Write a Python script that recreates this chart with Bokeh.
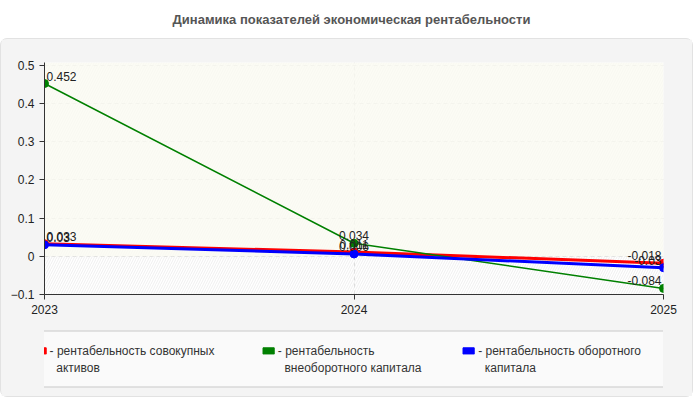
# rentability dynamics chart
from bokeh.plotting import figure
from bokeh.models import Div, Legend, LegendItem, BoxAnnotation, FixedTicker, Range1d
from bokeh.layouts import column
from bokeh.embed import file_html
from bokeh.resources import INLINE
from bokeh.core.properties import value

# data
years = [2023, 2024, 2025]
assets = [0.033, 0.011, -0.018]
noncurrent = [0.452, 0.034, -0.084]
current = [0.03, 0.006, -0.03]
# legend labels, first and second line
names_1 = ["- рентабельность совокупных", "- рентабельность", "- рентабельность оборотного"]
names_2 = ["активов", "внеоборотного капитала", "капитала"]
y_ticks = [-0.1, 0, 0.1, 0.2, 0.3, 0.4, 0.5]
title = "Динамика показателей экономическая рентабельности"

FONT = "Liberation Sans"
PANEL = "#f4f4f4"
W = 691
colors = ["red", "green", "blue"]
widths = [3, 1.5, 3]
series = [assets, noncurrent, current]

head = Div(
    text=f'<div style="width:{W + 2}px;text-align:center;font:bold 13px \'{FONT}\';color:#555;line-height:30px">{title}</div>',
    width=W + 2, height=28,
)

p = figure(width=W, height=283, output_backend="svg", toolbar_location=None,
           x_range=Range1d(2023, 2025), y_range=Range1d(-0.1, 0.507),
           min_border_left=43, min_border_right=29, min_border_top=23, min_border_bottom=28)
p.border_fill_color = PANEL
p.background_fill_color = "white"
p.outline_line_color = None

# hatched background, pale fill above zero
p.add_layout(BoxAnnotation(fill_color=None, line_color=None, hatch_pattern="/",
                           hatch_color="#e4e4e4", hatch_scale=5, hatch_weight=0.6, level="underlay"))
p.add_layout(BoxAnnotation(bottom=0, fill_color="#fbfbf2", fill_alpha=0.75, line_color=None, level="underlay"))

# axes
p.xaxis.ticker = FixedTicker(ticks=years)
p.yaxis.ticker = FixedTicker(ticks=y_ticks)
p.yaxis.major_label_overrides = {0: "0"}
for ax in (p.xaxis, p.yaxis):
    ax.axis_line_color = "#333"
    ax.major_tick_line_color = "#333"
    ax.minor_tick_line_color = None
    ax.major_tick_out = 5
    ax.major_tick_in = 0
    ax.major_label_text_font = FONT
    ax.major_label_text_font_size = "12px"
    ax.major_label_text_color = "#222"
p.xgrid.grid_line_color = "#dddddd"
p.xgrid.grid_line_dash = "4 3"
p.ygrid.grid_line_color = "#dddddd"
p.ygrid.grid_line_dash = "4 3"

for vals, c, w in zip(series, colors, widths):
    p.line(years, vals, line_color=c, line_width=w)
    p.scatter(years, vals, size=8, fill_color=c, line_color=c)

# point labels
aligns = ["left", "center", "right"]
for vals in series:
    for i, (x, v) in enumerate(zip(years, vals)):
        p.text([x], [v], text=[str(v)], text_align=aligns[i], text_baseline="bottom",
               x_offset=2 if i == 0 else (-2 if i == 2 else 0), y_offset=-3,
               text_font=value(FONT), text_font_size="12px", text_color="#222")

# legend lives in its own strip under the chart
lg = figure(width=W, height=74, output_backend="svg", toolbar_location=None,
            x_range=Range1d(0, 1), y_range=Range1d(0, 1),
            x_axis_location=None, y_axis_location=None,
            min_border_left=0, min_border_right=0, min_border_top=0, min_border_bottom=0)
lg.border_fill_color = PANEL
lg.background_fill_color = PANEL
lg.outline_line_color = None
lg.grid.visible = False

gaps = ["\u00a0" * 13, "\u00a0" * 11, "\u00a0" * 10]
row1, row2 = [], []
for c, n1, n2, g in zip(colors, names_1, names_2, gaps):
    # hidden swatch renderers, only their legend glyph is shown
    sw = lg.quad(left=[0], right=[0], top=[0], bottom=[0], fill_color=c, line_color=c, visible=False)
    blank = lg.quad(left=[0], right=[0], top=[0], bottom=[0], fill_alpha=0, line_alpha=0, visible=False)
    row1.append(LegendItem(label=n1 + g, renderers=[sw]))
    row2.append(LegendItem(label="\u00a0\u00a0" + n2 + g, renderers=[blank]))

legend = Legend(items=row1 + row2, orientation="horizontal", ncols=3, location="center",
                label_text_font=FONT, label_text_font_size="12px", label_text_color="#333",
                glyph_width=14, glyph_height=8, label_height=12, label_standoff=3, spacing=3,
                padding=12, border_line_color="#999999", inactive_fill_alpha=0,
                background_fill_color="#fafafa")
lg.add_layout(legend)

panel = column(p, lg, spacing=0,
               styles={"border": "1px solid #e2e2e2", "border-radius": "7px", "background": PANEL})
open("out.html", "w").write(file_html(column(head, panel, spacing=0), INLINE))
